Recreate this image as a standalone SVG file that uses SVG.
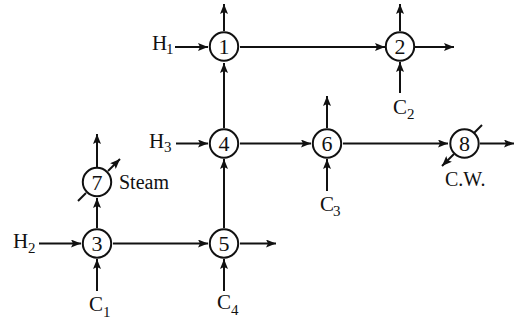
<svg xmlns="http://www.w3.org/2000/svg" width="514" height="324" viewBox="0 0 514 324">
<style>
.c{fill:#fff;stroke:#111;stroke-width:2}
.l{fill:none;stroke:#111;stroke-width:2}
.a{marker-end:url(#m)}
text{font-family:"Liberation Serif","Times New Roman",serif;fill:#111}
.n{font-size:22px;text-anchor:middle}
.t{font-size:21px}
.w{font-size:20px}
.s{font-size:15px}
</style>
<defs><marker id="m" markerUnits="userSpaceOnUse" markerWidth="11" markerHeight="8" refX="10" refY="4" orient="auto"><path d="M0 0L10 4L0 8L2 4Z" fill="#111"/></marker></defs>
<g id="connectors">
<path class="l a" d="M224 31V4"/>
<path class="l a" d="M175 47H208"/>
<path class="l a" d="M240 47H385"/>
<path class="l a" d="M400 31V4"/>
<path class="l a" d="M415 47H454"/>
<path class="l a" d="M400 93V62"/>
<path class="l a" d="M224 128V63"/>
<path class="l a" d="M176 143.500H208"/>
<path class="l a" d="M240 143.500H311"/>
<path class="l a" d="M327 128V96"/>
<path class="l a" d="M327 191V159"/>
<path class="l a" d="M343 143.500H448"/>
<path class="l a" d="M480 143.500H514"/>
<path class="l" d="M482 125L474 133"/>
<path class="l a" d="M454 154L442 166"/>
<path class="l a" d="M97 167V134"/>
<path class="l a" d="M97 228V198"/>
<path class="l" d="M78 201L86 193"/>
<path class="l a" d="M108 171L120 159"/>
<path class="l a" d="M39 243.500H81"/>
<path class="l a" d="M113 243.500H208"/>
<path class="l a" d="M97 291V259"/>
<path class="l a" d="M224 228V159"/>
<path class="l a" d="M240 243.500H276"/>
<path class="l a" d="M224 291V259"/>
</g>
<g id="node1"><circle class="c" cx="224" cy="46.500" r="14.200"/><text class="n" x="224" y="54">1</text></g>
<g id="node2"><circle class="c" cx="400" cy="46.500" r="14.200"/><text class="n" x="400" y="54">2</text></g>
<g id="node3"><circle class="c" cx="97" cy="243.500" r="14.200"/><text class="n" x="97" y="251">3</text></g>
<g id="node4"><circle class="c" cx="224" cy="143.500" r="14.200"/><text class="n" x="224" y="151">4</text></g>
<g id="node5"><circle class="c" cx="224" cy="243.500" r="14.200"/><text class="n" x="224" y="251">5</text></g>
<g id="node6"><circle class="c" cx="327" cy="143.500" r="14.200"/><text class="n" x="327" y="151">6</text></g>
<g id="node7"><circle class="c" cx="97" cy="182" r="14.200"/><text class="n" x="97" y="189.500">7</text></g>
<g id="node8"><circle class="c" cx="464.500" cy="143.500" r="14.200"/><text class="n" x="464.500" y="151">8</text></g>
<g id="labels">
<text class="t" x="152" y="50">H</text><text class="s" x="166" y="54">1</text>
<text class="t" x="149" y="148">H</text><text class="s" x="164" y="152">3</text>
<text class="t" x="13" y="248">H</text><text class="s" x="28" y="253">2</text>
<text class="t" x="89" y="311">C</text><text class="s" x="103" y="317">1</text>
<text class="t" x="217" y="309">C</text><text class="s" x="231" y="315">4</text>
<text class="t" x="393" y="114">C</text><text class="s" x="407" y="119">2</text>
<text class="t" x="320" y="211">C</text><text class="s" x="333" y="216">3</text>
<text class="w" x="119" y="189">Steam</text>
<text class="w" x="445" y="186">C.W.</text>
</g>
</svg>
